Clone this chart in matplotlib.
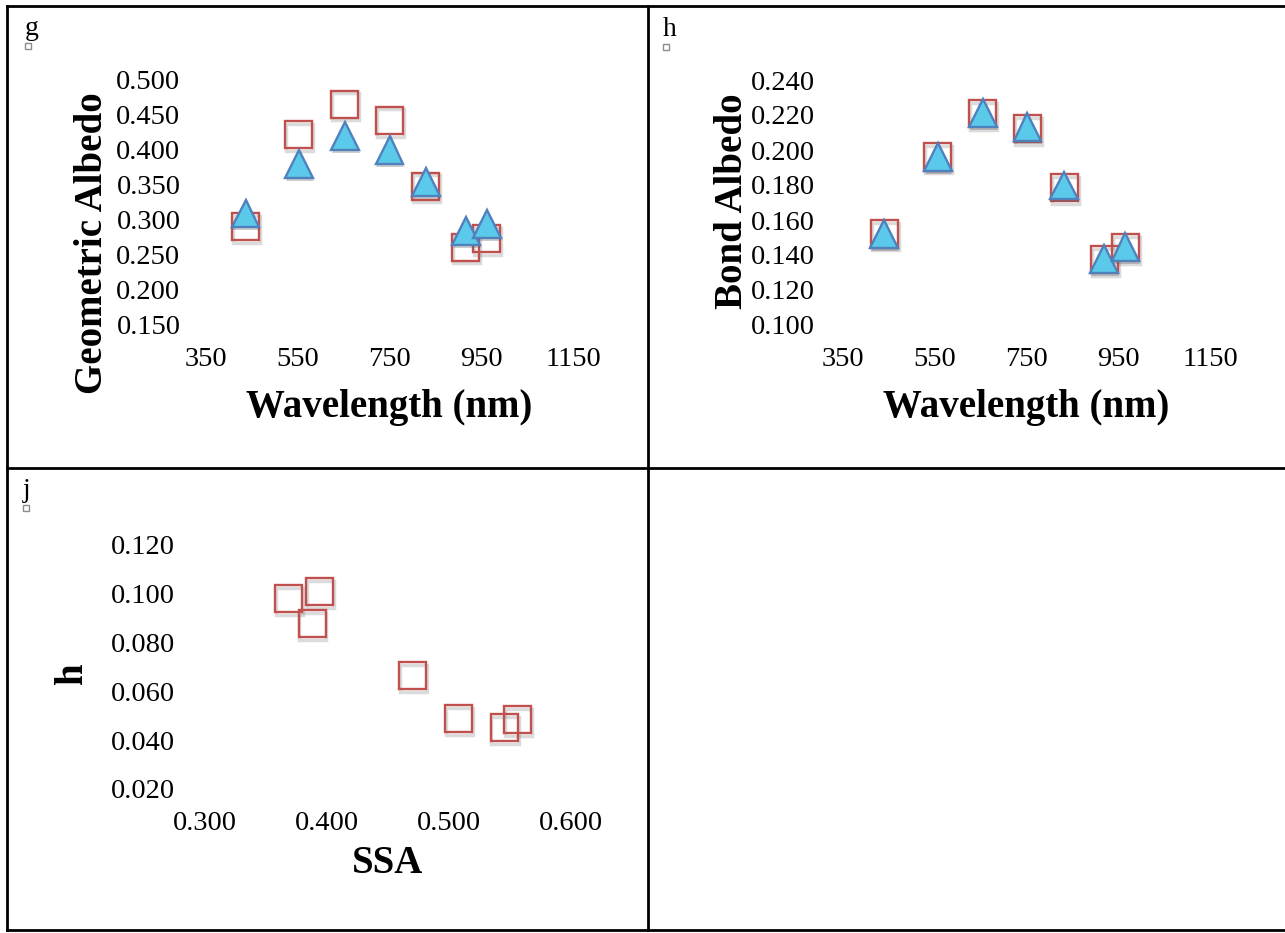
import matplotlib
matplotlib.use("Agg")
import matplotlib.pyplot as plt
from matplotlib.lines import Line2D
import matplotlib.patheffects as pe

# ---------------- data ----------------
wl_g_sq = [437, 553, 653, 750, 829, 916, 961]
geo_sq = [0.290, 0.421, 0.465, 0.442, 0.348, 0.261, 0.273]
wl_g_tri = [437, 553, 653, 750, 829, 916, 961]
geo_tri = [0.309, 0.380, 0.419, 0.400, 0.354, 0.284, 0.294]

wl_h_sq = [441, 557, 655, 752, 832, 919, 965]
bond_sq = [0.152, 0.196, 0.2207, 0.2124, 0.1787, 0.1375, 0.1444]
wl_h_tri = [441, 557, 655, 752, 832, 919, 965]
bond_tri = [0.152, 0.196, 0.2213, 0.2130, 0.1797, 0.1375, 0.1445]

ssa = [0.369, 0.394, 0.388, 0.470, 0.5075, 0.545, 0.556]
h_vals = [0.0978, 0.1007, 0.0876, 0.0663, 0.0488, 0.0451, 0.0483]

wl_ticks = [350, 550, 750, 950, 1150]
geo_ticks = [0.150, 0.200, 0.250, 0.300, 0.350, 0.400, 0.450, 0.500]
bond_ticks = [0.100, 0.120, 0.140, 0.160, 0.180, 0.200, 0.220, 0.240]
ssa_ticks = [0.300, 0.400, 0.500, 0.600]
h_ticks = [0.020, 0.040, 0.060, 0.080, 0.100, 0.120]

panel_letters = ["g", "h", "j"]

# ---------------- style ----------------
W, H = 1285, 933
SERIF = ["Liberation Serif", "DejaVu Serif"]
SQ_EDGE = "#C0504D"
TRI_FACE = "#5BC9EA"
TRI_EDGE = "#4F81BD"
TICK_FS = 20.5
TITLE_FS = 28

fig = plt.figure(figsize=(W / 100, H / 100), dpi=100)
fig.patch.set_facecolor("white")


def fx(x):
    return x / W


def fy(y):
    return 1 - y / H


def make_axes(left, right, top, bottom):
    ax = fig.add_axes([fx(left), fy(bottom), fx(right) - fx(left), fy(top) - fy(bottom)])
    for s in ax.spines.values():
        s.set_visible(False)
    ax.set_facecolor("none")
    return ax


def style_ticks(ax, xt, yt, xfmt, yfmt, xpad, ypad):
    ax.set_xticks(xt)
    ax.set_yticks(yt)
    ax.set_xticklabels([xfmt.format(v) for v in xt], fontfamily=SERIF, fontsize=TICK_FS)
    ax.set_yticklabels([yfmt.format(v) for v in yt], fontfamily=SERIF, fontsize=TICK_FS)
    ax.tick_params(axis="both", length=0)
    ax.tick_params(axis="x", pad=xpad)
    ax.tick_params(axis="y", pad=ypad)


sq_effects = [pe.SimpleLineShadow(offset=(0.6, -2.0), shadow_color="0.45", alpha=0.25, linewidth=2.5), pe.Normal()]
tri_effects = [pe.SimplePatchShadow(offset=(0.6, -2.2), shadow_rgbFace="0.35", alpha=0.3), pe.Normal()]


def squares(ax, x, y):
    ax.plot(x, y, linestyle="none", marker="s", markersize=19.5, markerfacecolor="none",
            markeredgecolor=SQ_EDGE, markeredgewidth=1.7, path_effects=sq_effects, clip_on=False, zorder=3)


def triangles(ax, x, y):
    ax.plot(x, y, linestyle="none", marker="^", markersize=20, markerfacecolor=TRI_FACE,
            markeredgecolor=TRI_EDGE, markeredgewidth=1.7, path_effects=tri_effects, clip_on=False, zorder=4)


# ---------------- panel g ----------------
axg = make_axes(205.5, 573.6, 79.5, 325)
axg.set_xlim(350, 1150)
axg.set_ylim(0.150, 0.500)
squares(axg, wl_g_sq, geo_sq)
triangles(axg, wl_g_tri, geo_tri)
style_ticks(axg, wl_ticks, geo_ticks, "{:d}", "{:.3f}", 16, 18)

# ---------------- panel h ----------------
axh = make_axes(842.5, 1210.5, 80, 325)
axh.set_xlim(350, 1150)
axh.set_ylim(0.100, 0.240)
squares(axh, wl_h_sq, bond_sq)
triangles(axh, wl_h_tri, bond_tri)
style_ticks(axh, wl_ticks, bond_ticks, "{:d}", "{:.3f}", 16, 20)

# ---------------- panel j ----------------
axj = make_axes(204.5, 571.4, 544.5, 789)
axj.set_xlim(0.300, 0.600)
axj.set_ylim(0.020, 0.120)
squares(axj, ssa, h_vals)
style_ticks(axj, ssa_ticks, h_ticks, "{:.3f}", "{:.3f}", 16, 21)

# ---------------- axis titles ----------------
title_kw = dict(fontfamily=SERIF, fontsize=TITLE_FS, fontweight="bold", color="black")
fig.text(fx(389.5), fy(417.3), "Wavelength (nm)", ha="center", va="baseline", **title_kw)
fig.text(fx(1026.5), fy(417.3), "Wavelength (nm)", ha="center", va="baseline", **title_kw)
fig.text(fx(388), fy(873.3), "SSA", ha="center", va="baseline", **title_kw)
fig.text(fx(101.7), fy(243.5), "Geometric Albedo", rotation=90, rotation_mode="anchor",
         ha="center", va="baseline", **title_kw)
fig.text(fx(742), fy(201), "Bond Albedo", rotation=90, rotation_mode="anchor",
         ha="center", va="baseline", **title_kw)
fig.text(fx(82), fy(674), "h", rotation=90, rotation_mode="anchor",
         ha="center", va="baseline", **title_kw)

# ---------------- panel letters ----------------
letter_pos = [(25, 35), (663, 36), (23, 497)]
for letter, (x, y) in zip(panel_letters, letter_pos):
    fig.text(fx(x), fy(y), letter, ha="left", va="baseline", fontfamily=SERIF, fontsize=20, color="black")
    fig.add_artist(Line2D([fx(x + 3)], [fy(y + 11)], marker="s", markersize=4.5,
                          markerfacecolor="white", markeredgecolor="0.55", markeredgewidth=1.0,
                          linestyle="none"))

# ---------------- table borders ----------------
line_kw = dict(color="black", linewidth=2.0, solid_capstyle="projecting")
fig.add_artist(Line2D([fx(7), fx(W)], [fy(6), fy(6)], **line_kw))
fig.add_artist(Line2D([fx(7), fx(W)], [fy(468), fy(468)], **line_kw))
fig.add_artist(Line2D([fx(7), fx(W)], [fy(930), fy(930)], **line_kw))
fig.add_artist(Line2D([fx(7), fx(7)], [fy(6), fy(930)], **line_kw))
fig.add_artist(Line2D([fx(648), fx(648)], [fy(6), fy(930)], **line_kw))

fig.savefig("out.png", dpi=100, facecolor="white")
